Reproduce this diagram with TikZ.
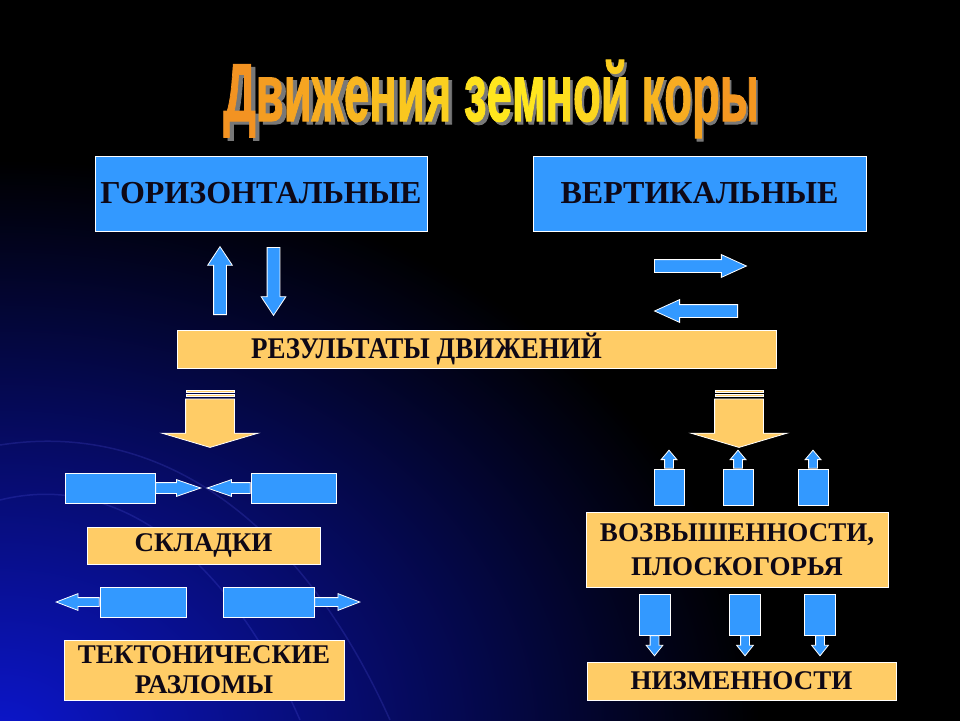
\documentclass[tikz,border=0pt]{standalone}
\usepackage{fontspec}
\setmainfont{Liberation Serif}
\newfontfamily\titlefont[BoldFeatures={FakeBold=1.5}]{Liberation Sans}
\usetikzlibrary{shapes.arrows}

\definecolor{boxblue}{RGB}{51,153,255}
\definecolor{boxyellow}{RGB}{255,204,102}
\definecolor{textdark}{RGB}{14,8,22}
\definecolor{glowblue}{RGB}{12,22,205}
\definecolor{titleorange}{RGB}{242,140,34}
\definecolor{titleyellow}{RGB}{255,232,30}
\definecolor{shadowgray}{RGB}{120,120,120}

\newcommand\tl[2]{\textcolor{titleyellow!#1!titleorange}{#2}}

\tikzset{
  Box/.style={draw=white, fill=#1, line width=0.8pt, inner sep=0pt, text=textdark, align=center},
  Arrow/.style={single arrow, draw=white, fill=#1, line width=0.8pt, anchor=tail},
  Vshaft/.style={inner xsep=#1, inner ysep=0pt},
  Hshaft/.style={inner xsep=0pt, inner ysep=#1},
  Title/.style={font=\titlefont\bfseries\fontsize{82}{82}\selectfont, xscale=0.555, inner sep=0pt, anchor=base},
  Arc/.style={draw=blue!60!white, line width=1.5pt, opacity=0.18}
}

\begin{document}
\begin{tikzpicture}[x=1pt, y=-1pt]
  % background
  \useasboundingbox (0,0) rectangle (960,720);
  \fill[black] (-2,-2) rectangle (962,722);
  \begin{scope}
    \clip (0,0) rectangle (960,720);
    \shade[inner color=glowblue, outer color=black] (0,740) ellipse [x radius=760, y radius=580];
    \draw[Arc] (0,445) .. controls (160,420) and (300,520) .. (390,720);
    \draw[Arc] (0,500) .. controls (120,470) and (230,560) .. (300,720);
  \end{scope}

  % title
  \node[Title, text=shadowgray] (titleshadow) at (494,124) {Движения земной коры};
  \node[Title] (title) at (491,121) {\tl{8}{Д}\tl{18}{в}\tl{27}{и}\tl{36}{ж}\tl{46}{е}\tl{55}{н}\tl{64}{и}\tl{73}{я} \tl{92}{з}\tl{98}{е}\tl{98}{м}\tl{90}{н}\tl{80}{о}\tl{70}{й} \tl{45}{к}\tl{35}{о}\tl{24}{р}\tl{12}{ы}};

  % main boxes
  \node[Box=boxblue, minimum width=332pt, minimum height=75pt, font=\bfseries\fontsize{32}{34}\selectfont] (horiz) at (261,193.5) {ГОРИЗОНТАЛЬНЫЕ};
  \node[Box=boxblue, minimum width=333pt, minimum height=75pt, font=\bfseries\fontsize{32}{34}\selectfont] (vert) at (699.5,193.5) {ВЕРТИКАЛЬНЫЕ};
  \node[Box=boxyellow, minimum width=599pt, minimum height=38pt, font=\bfseries\fontsize{30}{32}\selectfont] (result) at (476.5,349) {\scalebox{0.9}[1]{РЕЗУЛЬТАТЫ ДВИЖЕНИЙ}\hspace*{100pt}};

  % arrows between
  \node[Arrow=boxblue, Vshaft=6pt, minimum height=68pt, minimum width=24pt, single arrow head extend=6pt, single arrow tip angle=67, shape border rotate=90] (horizup) at (220,315) {};
  \node[Arrow=boxblue, Vshaft=6pt, minimum height=68pt, minimum width=24pt, single arrow head extend=6pt, single arrow tip angle=67, shape border rotate=270] (horizdown) at (273.5,247) {};
  \node[Arrow=boxblue, Hshaft=6pt, minimum height=92pt, minimum width=22pt, single arrow head extend=5pt, single arrow tip angle=49, shape border rotate=0] (vertright) at (654,266) {};
  \node[Arrow=boxblue, Hshaft=6pt, minimum height=83pt, minimum width=22pt, single arrow head extend=5pt, single arrow tip angle=49, shape border rotate=180] (vertleft) at (738,311) {};

  % big yellow arrows
  \node[Arrow=boxyellow, Vshaft=24pt, minimum height=48.5pt, minimum width=95pt, single arrow head extend=23.5pt, single arrow tip angle=147, shape border rotate=270] (bigleft) at (210,398.5) {};
  \draw[fill=boxyellow, draw=white, line width=0.6pt] (186,390) rectangle (234,392);
  \draw[fill=boxyellow, draw=white, line width=0.6pt] (186,394) rectangle (234,396.5);
  \node[Arrow=boxyellow, Vshaft=24pt, minimum height=48.5pt, minimum width=95pt, single arrow head extend=23.5pt, single arrow tip angle=147, shape border rotate=270] (bigright) at (739,398.5) {};
  \draw[fill=boxyellow, draw=white, line width=0.6pt] (715,390) rectangle (763,392);
  \draw[fill=boxyellow, draw=white, line width=0.6pt] (715,394) rectangle (763,396.5);

  % folds
  \node[Box=boxblue, minimum width=90pt, minimum height=30pt] (foldL) at (110,488) {};
  \node[Arrow=boxblue, Hshaft=5pt, minimum height=45pt, minimum width=16pt, single arrow head extend=3pt, single arrow tip angle=38, shape border rotate=0] (foldLarrow) at (foldL.east) {};
  \node[Box=boxblue, minimum width=85pt, minimum height=30pt] (foldR) at (293.5,488) {};
  \node[Arrow=boxblue, Hshaft=5pt, minimum height=43pt, minimum width=16pt, single arrow head extend=3pt, single arrow tip angle=38, shape border rotate=180] (foldRarrow) at (foldR.west) {};
  \node[Box=boxyellow, minimum width=233pt, minimum height=37pt, font=\bfseries\fontsize{27}{29}\selectfont] (folds) at (203.5,545.5) {СКЛАДКИ};

  % faults
  \node[Box=boxblue, minimum width=86pt, minimum height=30pt] (faultL) at (143,602) {};
  \node[Arrow=boxblue, Hshaft=4pt, minimum height=43pt, minimum width=16pt, single arrow head extend=4pt, single arrow tip angle=42, shape border rotate=180] (faultLarrow) at (faultL.west) {};
  \node[Box=boxblue, minimum width=91pt, minimum height=30pt] (faultR) at (268.5,602) {};
  \node[Arrow=boxblue, Hshaft=4pt, minimum height=45pt, minimum width=16pt, single arrow head extend=4pt, single arrow tip angle=42, shape border rotate=0] (faultRarrow) at (faultR.east) {};
  \node[Box=boxyellow, minimum width=280pt, minimum height=60pt, font=\bfseries\fontsize{27}{30}\selectfont] (faults) at (204,670) {ТЕКТОНИЧЕСКИЕ\\РАЗЛОМЫ};

  % uplift
  \foreach \x/\n in {669/upA, 738/upB, 813/upC}{
    \node[Box=boxblue, minimum width=30pt, minimum height=36pt] (\n) at (\x,487) {};
    \node[Arrow=boxblue, Vshaft=4pt, minimum height=18pt, minimum width=15pt, single arrow head extend=3.5pt, single arrow tip angle=80, shape border rotate=90] (\n arrow) at (\n.north) {};
  }
  \node[Box=boxyellow, minimum width=302pt, minimum height=75pt, font=\bfseries\fontsize{27}{34}\selectfont] (highs) at (737,549.5) {ВОЗВЫШЕННОСТИ,\\ПЛОСКОГОРЬЯ};

  % subsidence
  \foreach \x/\n in {654.5/downA, 745/downB, 820/downC}{
    \node[Box=boxblue, minimum width=31pt, minimum height=41pt] (\n) at (\x,614.5) {};
    \node[Arrow=boxblue, Vshaft=4pt, minimum height=20pt, minimum width=16pt, single arrow head extend=4pt, single arrow tip angle=77, shape border rotate=270] (\n arrow) at (\n.south) {};
  }
  \node[Box=boxyellow, minimum width=309pt, minimum height=38pt, font=\bfseries\fontsize{27}{29}\selectfont] (lows) at (741.5,681) {НИЗМЕННОСТИ};
\end{tikzpicture}
\end{document}
